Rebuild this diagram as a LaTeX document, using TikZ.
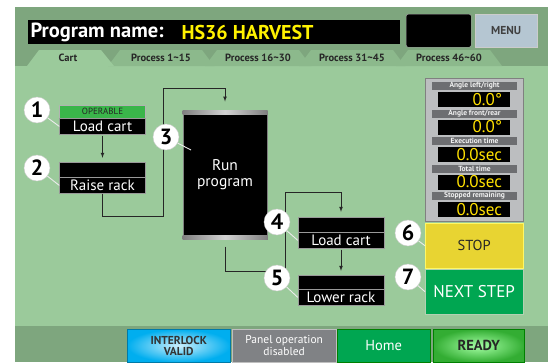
\documentclass[tikz,border=0pt]{standalone}
\usepackage{fontspec}
\setmainfont{PT Sans}
\usetikzlibrary{shapes}
\usetikzlibrary{positioning}

\definecolor{bgdark}{HTML}{7EA67E}
\definecolor{bglight}{HTML}{9BCA9B}
\definecolor{tabgreen}{HTML}{8CB98C}
\definecolor{opgreen}{HTML}{3AB54A}
\definecolor{btngreen}{HTML}{00A651}
\definecolor{stopyellow}{HTML}{E8D432}
\definecolor{menublue}{HTML}{B5C6D2}
\definecolor{infogrey}{HTML}{BCBEC0}
\definecolor{stripgrey}{HTML}{6D6E71}
\definecolor{offgrey}{HTML}{808285}
\definecolor{ilcyan}{HTML}{00AEEF}
\definecolor{valyellow}{HTML}{FFF200}

\tikzset{
    stepbox/.style={fill=black, draw=gray!80, minimum width=86pt, minimum height=15pt, inner sep=0pt, text=white, font=\fontsize{15}{15}\selectfont},
    badge/.style={circle, fill=white, draw=gray!40, minimum size=26pt, inner sep=0pt, font=\bfseries\fontsize{22}{22}\selectfont},
    leader/.style={draw=gray!15, line width=0.9pt},
    flow/.style={-latex, line width=0.7pt, black!85},
    tabtext/.style={font=\bfseries\fontsize{10.5}{10.5}\selectfont, text=black!85},
    barbtn/.style={minimum height=33pt, inner sep=0pt, align=center, anchor=north west},
}

\begin{document}
\begin{tikzpicture}[x=1pt, y=-1pt, node distance=0pt]

    \useasboundingbox (0,0) rectangle (548,362);
    \fill[white] (0,0) rectangle (548,362);
    \fill[bgdark] (15,7) rectangle (548,362);
    \fill[bglight] (15,66) rectangle (548,326);

    % header
    \node(bar)[fill=black, minimum width=372pt, minimum height=24pt, anchor=north west, inner sep=0pt] at (28,20) {};
    \node(pname)[anchor=west, text=white, font=\bfseries\fontsize{20.5}{20.5}\selectfont] at (27,32) {Program name:};
    \node(prog)[anchor=west, text=valyellow, font=\bfseries\fontsize{20}{20}\selectfont] at (178,32) {HS36 HARVEST};
    \node(blank)[fill=black, draw=gray!60, rounded corners=2pt, minimum width=65pt, minimum height=33pt, anchor=north west] at (406,14) {};
    \node(menu)[fill=menublue, draw=gray!40, minimum width=62pt, minimum height=33pt, anchor=north west, font=\bfseries\fontsize{11.5}{11.5}\selectfont, text=black!75] at (475,14) {MENU};

    % tabs
    \foreach \cx/\txt in {449/{Process 46\textasciitilde60}, 352/{Process 31\textasciitilde45}, 258/{Process 16\textasciitilde30}, 161/{Process 1\textasciitilde15}} {
        \fill[tabgreen] (\cx-53,66) -- (\cx-41,50) -- (\cx+41,50) -- (\cx+53,66) -- cycle;
        \node(tab\cx)[tabtext] at (\cx,58) {\txt};
    }
    \fill[bglight] (27,66) -- (39,50) -- (101,50) -- (114,66) -- cycle;
    \node(cart)[tabtext] at (68,58) {Cart};

    % steps
    \node(op1)[stepbox, fill=opgreen, draw=gray!60, minimum height=13pt, text=black!85, font=\fontsize{9}{9}\selectfont] at (102.5,111.5) {OPERABLE};
    \node(load1)[stepbox, minimum height=16pt, below=of op1] {Load cart};
    \node(flag2)[stepbox] at (102.5,169.5) {};
    \node(raise)[stepbox, minimum height=16pt, below=of flag2] {Raise rack};

    \node(run)[fill=black, draw=gray, line width=1pt, minimum width=84pt, minimum height=128pt, inner sep=0pt, align=center, text=white, font=\fontsize{15.5}{16}\selectfont] at (225,175) {Run\\program};
    \shade[left color=gray, right color=gray, middle color=gray!35] (run.north west) rectangle ([yshift=-4pt]run.north east);
    \shade[left color=gray, right color=gray, middle color=gray!35] (run.south west) rectangle ([yshift=4pt]run.south east);

    \node(flag4)[stepbox] at (341,224.5) {};
    \node(load4)[stepbox, minimum height=16pt, below=of flag4] {Load cart};
    \node(flag5)[stepbox, minimum height=14pt] at (341,282) {};
    \node(lower)[stepbox, minimum height=16pt, below=of flag5] {Lower rack};

    \draw[flow, shorten <=1pt, shorten >=4pt] (load1) -- (flag2);
    \draw[flow, shorten >=9pt] (raise.south) -- ++(0,23) -| (163,88) -| (run.north);
    \draw[flow, shorten <=7pt, shorten >=5pt] (run.south) |- (285,271) -- (285,192) -| (flag4.north);
    \draw[flow, shorten <=1pt, shorten >=4pt] (load4) -- (flag5);

    % info panel
    \node(info)[fill=infogrey, draw=gray, minimum width=98pt, minimum height=143pt, anchor=north west, inner sep=0pt] at (425,78) {};
    \foreach \i/\lab/\val in {0/{Angle left/right}/{0.0°}, 1/{Angle front/rear}/{0.0°}, 2/{Execution time}/{0.0sec}, 3/{Total time}/{0.0sec}, 4/{Stopped remaining}/{0.0sec}} {
        \node(lab\i)[fill=stripgrey, minimum width=85pt, minimum height=8pt, inner sep=0pt, text=white!90!gray, font=\bfseries\fontsize{7.5}{7.5}\selectfont] at (474.5,86+27.5*\i) {\lab};
        \node(val\i)[fill=black, minimum width=72pt, minimum height=15pt, inner sep=0pt] at (474,99.5+27.5*\i) {};
        \node(vt\i)[anchor=east, inner sep=0pt, text=valyellow!85!orange, font=\fontsize{17}{17}\selectfont] at ([xshift=-8pt]val\i.east) {\val};
    }

    \node(stop)[fill=stopyellow, draw=yellow!60!white, minimum width=98pt, minimum height=45pt, anchor=north west, text=black!85, font=\fontsize{14.5}{14.5}\selectfont] at (425,223) {STOP};
    \node(next)[fill=btngreen, draw=green!40!black!30, minimum width=98pt, minimum height=45pt, anchor=north west, text=white, font=\fontsize{17}{17}\selectfont] at (425,269) {NEXT STEP};

    % numbers
    \node(n1)[badge] at (37,110) {1};
    \node(n2)[badge] at (37,168) {2};
    \node(n3)[badge] at (166,137) {3};
    \node(n4)[badge] at (277,222) {4};
    \node(n5)[badge] at (277,278) {5};
    \node(n6)[badge] at (408,233) {6};
    \node(n7)[badge] at (408,277) {7};
    \coordinate(l3) at (191,150);

    \draw[leader] (n1) -- (load1.west);
    \draw[leader] (n2) -- (raise.west);
    \draw[leader] (n3) -- (l3);
    \draw[leader] (n4) -- (load4.west);
    \draw[leader] (n5) -- (lower.west);
    \draw[leader] (n6) -- (stop.west);
    \draw[leader] (n7) -- (next.west);

    % bottom bar
    \node(ilock)[barbtn, minimum width=103pt, shading=radial, inner color=ilcyan!20, outer color=ilcyan, draw=ilcyan!70!black, text=black!80, font=\bfseries\fontsize{11.5}{11}\selectfont] at (127,329) {INTERLOCK\\VALID};
    \node(panel)[barbtn, minimum width=104pt, fill=offgrey, draw=gray!50, text=white, font=\fontsize{11.5}{11.5}\selectfont] at (232,329) {Panel operation\\disabled};
    \node(home)[barbtn, minimum width=93pt, fill=btngreen, draw=green!50!black, text=white, font=\fontsize{14.5}{14.5}\selectfont] at (337,329) {Home};
    \node(ready)[barbtn, minimum width=91pt, shading=radial, inner color=green!35!white, outer color=green!60!black!80, draw=green!50!black, text=black!85, font=\bfseries\fontsize{14.5}{14.5}\selectfont] at (433,329) {READY};

\end{tikzpicture}
\end{document}
